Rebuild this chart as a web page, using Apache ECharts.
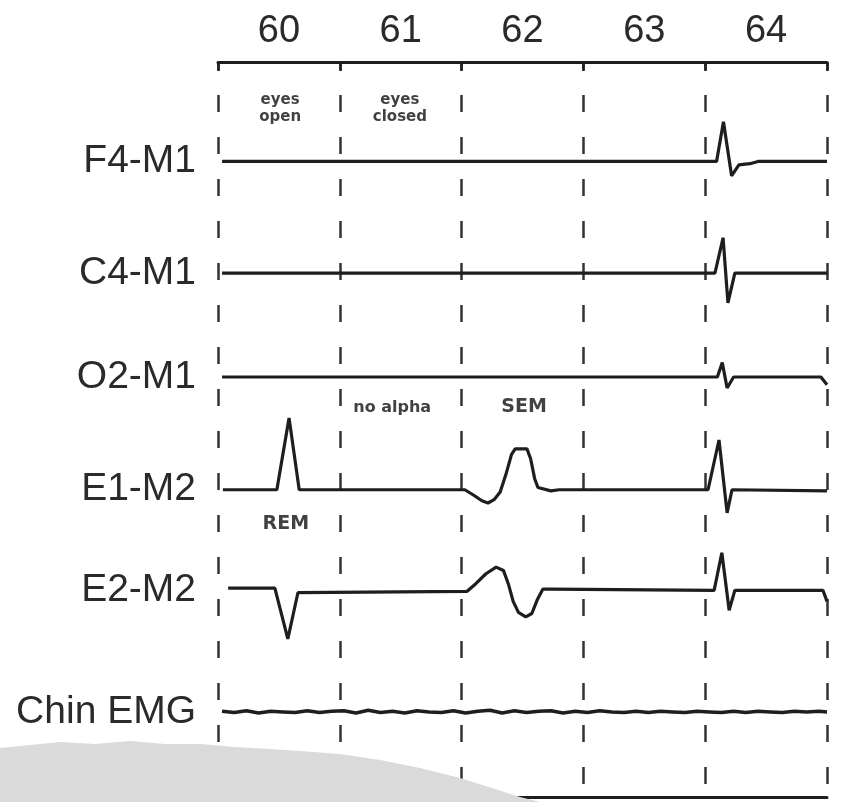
<!DOCTYPE html>
<html>
<head>
<meta charset="utf-8">
<script src="https://cdn.jsdelivr.net/npm/echarts@6/dist/echarts.min.js"></script>
<style>
  html, body { margin: 0; padding: 0; background: #fff; }
  #main { width: 842px; height: 802px; }
</style>
</head>
<body>
<div id="main"></div>
<script>
// epochs (30 s each) shown along the top
const epochs = ['60', '61', '62', '63', '64'];

// channel names and where each trace sits (in trace-spacing units, downwards)
const channels = ['F4-M1', 'C4-M1', 'O2-M1', 'E1-M2', 'E2-M2', 'Chin EMG'];
const baselines = [0, 1.01, 1.95, 2.97, 3.88, 4.98];

// each trace: [seconds from start of epoch 60, amplitude]
const f4m1 = [[1, 0], [122.8, 0], [124.5, 0.36], [126.5, -0.13], [128.3, -0.03], [131, -0.02], [133, 0], [150, 0]];
const c4m1 = [[1, 0], [122.4, 0], [124.4, 0.32], [125.6, -0.27], [127.3, 0], [150, 0]];
const o2m1 = [[1, 0], [123, 0], [124.2, 0.13], [125.4, -0.1], [127, 0], [148.5, 0], [150, -0.07]];
const e1m2 = [
  [1.2, 0], [14.5, 0], [17.5, 0.65], [20, 0], [60.8, 0],
  [63, -0.05], [65, -0.1], [66.5, -0.12], [68, -0.09], [69.5, -0.02], [71, 0.15], [72.3, 0.32],
  [73.2, 0.37], [76.1, 0.37], [77, 0.28], [78, 0.1], [78.8, 0.02], [82, -0.01], [84, 0],
  [120.7, 0], [123.4, 0.45], [125.4, -0.21], [126.6, 0], [150, -0.01]
];
const e2m2 = [
  [2.5, 0.02], [14, 0.02], [17.2, -0.44], [19.7, -0.02], [61.3, -0.01],
  [63.5, 0.06], [66, 0.15], [68.5, 0.21], [70.3, 0.18], [71.5, 0.06], [72.7, -0.1], [74, -0.2],
  [75.8, -0.24], [77.3, -0.21], [78.7, -0.08], [80, 0.01], [82, 0.01],
  [122.2, 0], [124.1, 0.34], [125.9, -0.18], [127.3, 0], [149, 0], [150, -0.1]
];
// chin EMG: low-amplitude muscle activity, one sample every 3 s from t = 1
const chinStart = 1;
const chinStep = 3;
const chinEmg = [0.005, -0.005, 0.01, -0.01, 0.005, 0, -0.005, 0.01, -0.005, 0.005,
  0.01, -0.01, 0.015, -0.005, 0.005, -0.01, 0.01, 0, -0.005, 0.01,
  -0.01, 0.005, 0.015, -0.01, 0.01, -0.005, 0.005, 0.01, -0.01, 0.005,
  -0.005, 0.01, 0, -0.005, 0.005, -0.005, 0.005, 0, -0.005, 0.005,
  0, -0.005, 0.005, -0.005, 0.005, 0, -0.005, 0.005, 0, 0.005, 0];

// annotations: [seconds, level, text]
const notes = [
  [15.3, 0.48, 'eyes\nopen'],
  [44.8, 0.48, 'eyes\nclosed'],
  [42.9, -2.23, 'no alpha'],
  [75.4, -2.22, 'SEM'],
  [16.7, -3.28, 'REM']
];

const ink = '#1e1e1e';
const font = '"Liberation Sans", Arial, Helvetica, sans-serif';

const chinTrace = chinEmg.map((v, i) => [Math.min(150, chinStart + i * chinStep), v]);
const traces = [f4m1, c4m1, o2m1, e1m2, e2m2, chinTrace];

const chart = echarts.init(document.getElementById('main'));

const series = traces.map((tr, i) => ({
  name: channels[i],
  type: 'line',
  xAxisIndex: 1,
  yAxisIndex: 0,
  showSymbol: false,
  silent: true,
  lineStyle: {color: ink, width: i === 5 ? 3.5 : 3.2},
  data: tr.map(p => [p[0], p[1] - baselines[i]])
}));

series.push({
  type: 'scatter',
  xAxisIndex: 1,
  yAxisIndex: 0,
  symbolSize: 1,
  silent: true,
  itemStyle: {color: 'rgba(0,0,0,0)'},
  label: {
    show: true,
    position: 'inside',
    formatter: p => p.value[2],
    color: '#111',
    fontFamily: '"DejaVu Sans", sans-serif',
    fontWeight: 'bold',
    fontSize: 15,
    lineHeight: 17
  },
  data: notes.map(n => ({
    value: n,
    label: n[2] === 'SEM' || n[2] === 'REM' ? {fontSize: 19} : (n[2] === 'no alpha' ? {fontSize: 16} : {})
  }))
});

const option = {
  backgroundColor: '#fff',
  animation: false,
  grid: {left: 218, right: 15, top: 62, bottom: 5},
  xAxis: [
    {
      type: 'category',
      position: 'top',
      data: epochs,
      boundaryGap: true,
      axisLine: {onZero: false, lineStyle: {color: ink, width: 3}},
      axisTick: {show: true, inside: true, length: 9, lineStyle: {color: ink, width: 2.5}},
      axisLabel: {color: '#2a2a2a', fontSize: 38, fontFamily: font, margin: 11},
      splitLine: {show: false}
    },
    {
      type: 'value',
      position: 'bottom',
      min: 0,
      max: 150,
      interval: 30,
      axisLine: {show: true, onZero: false, lineStyle: {color: ink, width: 3}},
      axisTick: {show: false},
      axisLabel: {show: false},
      splitLine: {
        show: true,
        lineStyle: {color: '#333', width: 2.5, type: [17, 25], dashOffset: 9}
      }
    }
  ],
  yAxis: {
    type: 'value',
    min: -5.75,
    max: 0.9,
    axisLine: {show: false},
    axisTick: {show: false},
    splitLine: {show: false},
    axisLabel: {
      customValues: baselines.map(b => -b),
      formatter: v => {
        const i = baselines.findIndex(b => Math.abs(-b - v) < 1e-6);
        return i >= 0 ? channels[i] : '';
      },
      color: '#2a2a2a',
      fontSize: 39,
      fontFamily: font,
      margin: 22
    }
  },
  graphic: [{
    type: 'polygon',
    z: 100,
    silent: true,
    shape: {
      points: [[0, 748], [30, 745], [60, 742], [95, 744], [130, 741], [165, 744], [200, 744],
        [235, 747], [270, 749], [300, 751], [340, 754], [380, 760], [420, 768], [460, 778],
        [495, 789], [520, 797], [540, 802], [0, 802]]
    },
    style: {fill: '#dadada'}
  }],
  series: series
};

chart.setOption(option);
</script>
</body>
</html>
